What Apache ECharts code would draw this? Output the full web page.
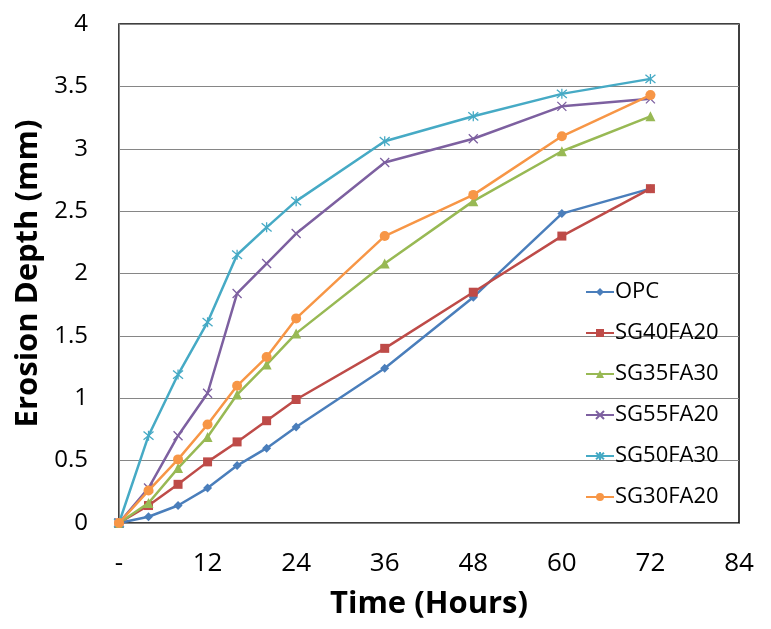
<!DOCTYPE html>
<html>
<head>
<meta charset="utf-8">
<script src="https://cdn.jsdelivr.net/npm/echarts@6/dist/echarts.min.js"></script>
<style>html,body{margin:0;padding:0;background:#fff;}#c{width:771px;height:629px;}</style>
</head>
<body>
<div id="c"></div>
<script>
const hours = [0, 4, 8, 12, 16, 20, 24, 36, 48, 60, 72];
const seriesNames = ['OPC', 'SG40FA20', 'SG35FA30', 'SG55FA20', 'SG50FA30', 'SG30FA20'];
const OPC      = [0, 0.05, 0.14, 0.28, 0.46, 0.60, 0.77, 1.24, 1.81, 2.48, 2.68];
const SG40FA20 = [0, 0.14, 0.31, 0.49, 0.65, 0.82, 0.99, 1.40, 1.85, 2.30, 2.68];
const SG35FA30 = [0, 0.16, 0.44, 0.69, 1.03, 1.27, 1.52, 2.08, 2.58, 2.98, 3.26];
const SG55FA20 = [0, 0.28, 0.70, 1.04, 1.84, 2.08, 2.32, 2.89, 3.08, 3.34, 3.40];
const SG50FA30 = [0, 0.70, 1.19, 1.61, 2.15, 2.37, 2.58, 3.06, 3.26, 3.44, 3.56];
const SG30FA20 = [0, 0.26, 0.51, 0.79, 1.10, 1.33, 1.64, 2.30, 2.63, 3.10, 3.43];
const xTicks = ['-', '12', '24', '36', '48', '60', '72', '84'];

const values = [OPC, SG40FA20, SG35FA30, SG55FA20, SG50FA30, SG30FA20];
const colors = ['#4A7EBB', '#BE4B48', '#98B954', '#7D60A0', '#46AAC5', '#F79646'];
const symbols = ['diamond', 'rect', 'triangle',
  'path://M0,0L10,10M10,0L0,10',
  'path://M0,0L10,10M10,0L0,10M5,-1L5,11',
  'circle'];
const sizes = [9, 9, 10, 9, 10, 10];
const stroked = [false, false, false, true, true, false];

const chart = echarts.init(document.getElementById('c'));
const series = seriesNames.map((n, i) => ({
  name: n,
  type: 'line',
  data: hours.map((h, j) => [h, values[i][j]]),
  symbol: symbols[i],
  symbolSize: sizes[i],
  showSymbol: true,
  lineStyle: { color: colors[i], width: 2.5 },
  itemStyle: stroked[i]
    ? { color: colors[i], borderColor: colors[i], borderWidth: 1.3 }
    : { color: colors[i], borderWidth: 0 },
  z: 2 + i,
  animation: false
}));

chart.setOption({
  animation: false,
  backgroundColor: '#fff',
  grid: { left: 119, right: 32, top: 24, bottom: 106, show: true, borderColor: '#000', borderWidth: 1.5, backgroundColor: 'transparent' },
  legend: {
    orient: 'vertical',
    left: 580,
    top: 275,
    itemWidth: 28,
    itemHeight: 10,
    itemGap: 17,
    textStyle: { fontFamily: 'Open Sans', fontSize: 22, color: '#000', lineHeight: 24, padding: [0, 0, 0, -4] },
    data: seriesNames
  },
  xAxis: {
    type: 'value', min: 0, max: 84, interval: 12,
    axisLine: { show: true, lineStyle: { color: '#868686', width: 1 } },
    axisTick: { show: false },
    splitLine: { show: false },
    axisLabel: {
      margin: 28, fontFamily: 'Open Sans', fontSize: 26, color: '#000',
      formatter: v => xTicks[Math.round(v / 12)]
    },
    name: 'Time (Hours)', nameLocation: 'middle', nameGap: 66,
    nameTextStyle: { fontFamily: 'Open Sans', fontWeight: 'bold', fontSize: 31, color: '#000' }
  },
  yAxis: {
    type: 'value', min: 0, max: 4, interval: 0.5,
    axisLine: { show: true, lineStyle: { color: '#868686', width: 1 } },
    axisTick: { show: false },
    splitLine: { show: true, lineStyle: { color: '#868686', width: 1 } },
    axisLabel: { margin: 31, fontFamily: 'Open Sans', fontSize: 24, color: '#000' },
    name: 'Erosion Depth (mm)', nameLocation: 'middle', nameGap: 74,
    nameTextStyle: { fontFamily: 'Open Sans', fontWeight: 'bold', fontSize: 31, color: '#000' }
  },
  series: series
});
</script>
</body>
</html>
